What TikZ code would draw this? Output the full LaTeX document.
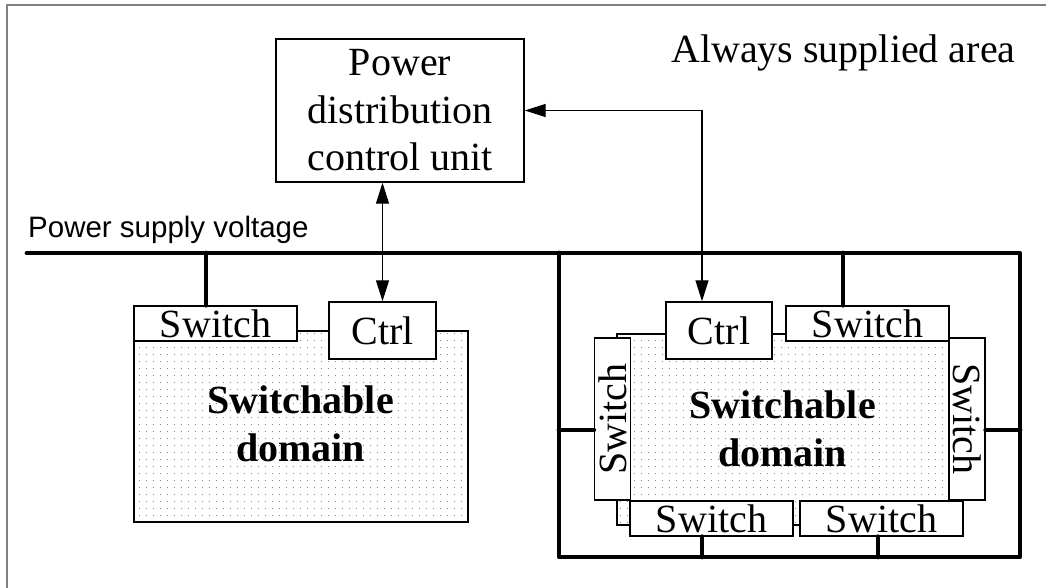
\documentclass[tikz,border=0pt]{standalone}
\usepackage{fontspec}
\setmainfont{Liberation Serif}
\newfontfamily\arialfont{Liberation Sans}
\usetikzlibrary{arrows.meta,patterns.meta}
\begin{document}
\begin{tikzpicture}[x=1pt,y=-1pt,
  box/.style={draw, line width=1.4pt, fill=white, inner sep=0pt,
    font=\fontsize{40}{47.5}\selectfont, align=center},
  swbox/.style={box, minimum width=163pt, minimum height=35pt},
  vswbox/.style={box, minimum width=162pt, minimum height=36pt},
  ctrlbox/.style={box, minimum width=107pt, minimum height=57pt},
  domainbox/.style={draw, line width=1.4pt, pattern={Dots[distance=7.4pt,radius=0.6pt]}, pattern color=black!50},
  bus/.style={line width=4.8pt, line cap=round, line join=round},
  sig/.style={line width=1.2pt, {Triangle[length=21pt,width=13pt]}-{Triangle[length=21pt,width=13pt]}},
  dlabel/.style={font=\bfseries\fontsize{40}{48}\selectfont, align=center, inner sep=0pt, anchor=north},
  plain/.style={inner sep=0pt, anchor=base west},
]
\useasboundingbox (0,0) rectangle (1046,588);
\fill[white] (0,0) rectangle (1046,588);
\draw[line width=1.5pt, black!50] (7,588) -- (7,5) -- (1046,5);

% power distribution control unit
\node[box, minimum width=248pt, minimum height=143pt] (pdcu) at (400,110.5)
  {Power\\distribution\\control unit};
\node[plain, font=\fontsize{40}{47}\selectfont] (always) at (671,63) {Always supplied area};
\node[plain, font=\arialfont\fontsize{29.5}{35}\selectfont] (psv) at (28,237) {Power supply voltage};

% bus and right frame
\coordinate (busL) at (27,253);
\coordinate (busR) at (1020,253);
\coordinate (frTL) at (559,253);
\coordinate (frBL) at (559,557);
\coordinate (frBR) at (1020,557);
\draw[bus] (busL) -- (busR) -- (frBR) -- (frBL) -- (frTL);

% left switchable domain
\node[domainbox, minimum width=334pt, minimum height=191pt, inner sep=0pt] (ldom) at (301,426.5) {};
\node[swbox] (lsw) at (215.5,323.5) {Switch};
\node[ctrlbox] (lctrl) at (382.5,330.5) {Ctrl};
\node[dlabel] (ltxt) at (300.5,386) {Switchable\\domain};

% right switchable domain
\node[domainbox, minimum width=332pt, minimum height=191pt, inner sep=0pt] (rdom) at (783,429.5) {};
\node[ctrlbox, minimum width=106pt] (rctrl) at (719,330.5) {Ctrl};
\node[swbox] (rtsw) at (867.5,323.5) {Switch};
\node[vswbox, rotate=90] (lvsw) at (612.5,419) {Switch};
\node[vswbox, rotate=-90] (rvsw) at (967,419) {Switch};
\node[swbox] (lbsw) at (711.5,518.5) {Switch};
\node[swbox] (rbsw) at (881.5,518.5) {Switch};
\node[dlabel] (rtxt) at (782.5,391) {Switchable\\domain};

% power taps
\coordinate (t1) at (206,253);
\coordinate (t2) at (843,253);
\coordinate (t3) at (559,430);
\coordinate (t4) at (1020,430);
\coordinate (t5) at (702,557);
\coordinate (t6) at (878,557);
\draw[bus] (t1) -- (t1 |- lsw.north);
\draw[bus] (t2) -- (t2 |- rtsw.north);
\draw[bus] (t3) -- (t3 -| lvsw.north);
\draw[bus] (t4) -- (t4 -| rvsw.north);
\draw[bus] (t5) -- (t5 |- lbsw.south);
\draw[bus] (t6) -- (t6 |- rbsw.south);

% control signals
\draw[sig] (lctrl.north |- pdcu.south) -- (lctrl.north);
\coordinate (ra) at ([xshift=-17pt]rctrl.north);
\draw[sig] (pdcu.east) -| (ra);
\end{tikzpicture}
\end{document}
